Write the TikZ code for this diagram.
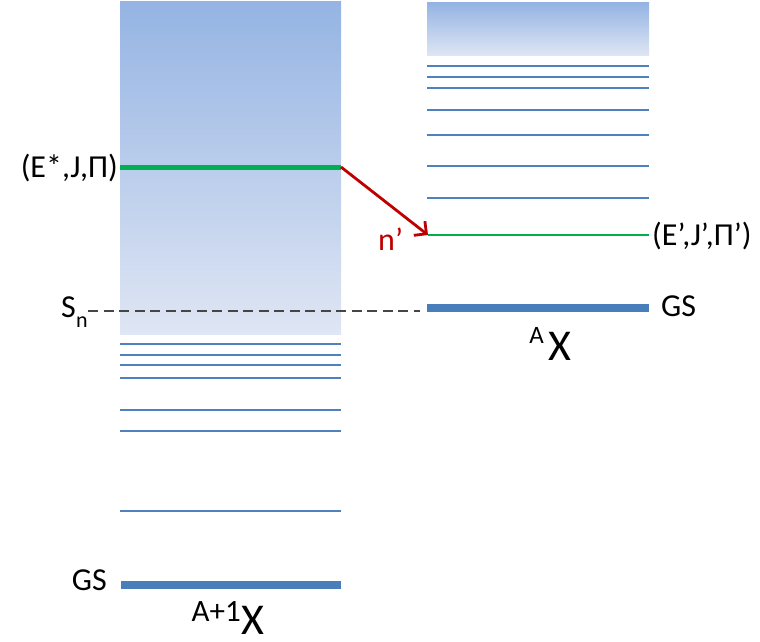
\documentclass[tikz,border=0pt]{standalone}
\usepackage{fontspec}
\setmainfont{Carlito}
\usetikzlibrary{arrows.meta}
\definecolor{lvl}{RGB}{79,129,189}
\definecolor{gsblue}{RGB}{74,126,187}
\definecolor{grn}{RGB}{0,176,80}
\definecolor{arr}{RGB}{192,0,0}
\definecolor{shtop}{RGB}{149,180,227}
\definecolor{shbot}{RGB}{223,230,244}
\definecolor{dashc}{RGB}{70,70,70}
\begin{document}
\begin{tikzpicture}[x=1pt,y=-1pt,
  level/.style={draw=lvl, line width=1.6pt},
  gsline/.style={draw=gsblue, line width=8.5pt},
  lbl/.style={inner sep=0pt, font=\fontsize{32}{32}\selectfont},
  bigx/.style={inner sep=0pt, text depth=0pt, font=\fontsize{44}{44}\selectfont}]
\useasboundingbox (0,0) rectangle (760,642);
% continuum boxes
\shade[top color=shtop, bottom color=shbot] (120,2) rectangle (341,334);
\shade[top color=shtop, bottom color=shbot] (427,3) rectangle (649,56);
% left discrete levels
\foreach \yy in {344,355,365,378,410,431,511}
  \draw[level] (120,\yy) -- (341,\yy);
% right discrete levels
\foreach \yy in {66,77,88,110,135,166,198}
  \draw[level] (427,\yy) -- (649,\yy);
% ground states
\coordinate (gsLa) at (121,585);
\coordinate (gsLb) at (341,585);
\draw[gsline] (gsLa) -- (gsLb);
\coordinate (gsRa) at (427,308);
\coordinate (gsRb) at (649,308);
\draw[gsline] (gsRa) -- (gsRb);
% green states
\coordinate (eStarL) at (120,167);
\coordinate (eStar) at (341,167);
\draw[draw=grn, line width=5pt] (eStarL) -- (eStar);
\coordinate (ePrime) at (428,235);
\coordinate (ePrimeR) at (649,235);
\draw[draw=grn, line width=1.4pt] (ePrime) -- (ePrimeR);
% neutron separation
\node[lbl, anchor=base east] (sn) at (76,317) {S};
\node[inner sep=0pt, anchor=base west, font=\fontsize{22}{22}\selectfont] (snsub) at (sn.base east) [yshift=-10pt] {n};
\coordinate (dashEnd) at (420,311);
\draw[draw=dashc, line width=1.3pt, dash pattern=on 10pt off 5.5pt] (88,311) -- (dashEnd);
% arrow
\draw[draw=arr, line width=2.8pt, -{Straight Barb[length=9pt,width=18pt]}] (eStar) -- (ePrime);
\node[lbl, text=arr, anchor=base west] (nprime) at (378,250) {n’};
% labels
\node[lbl, anchor=east] (lE) at (118,168) {(E*,J,Π)};
\node[lbl, anchor=west] (lEp) at (652,236) {(E’,J’,Π’)};
\node[lbl, anchor=west] (gsR) at (661,306) {GS};
\node[lbl, anchor=east] (gsL) at (107,580) {GS};
% nucleus names
\node[bigx, anchor=base west] (xR) at (548,360) {X};
\node[inner sep=0pt, anchor=base east, font=\fontsize{25}{25}\selectfont] (aR) at (544,343) {A};
\node[bigx, anchor=base west] (xL) at (241,634.5) {X};
\node[inner sep=0pt, anchor=base east, font=\fontsize{31}{31}\selectfont] (aL) at (241,621) {A+1};
\end{tikzpicture}
\end{document}
